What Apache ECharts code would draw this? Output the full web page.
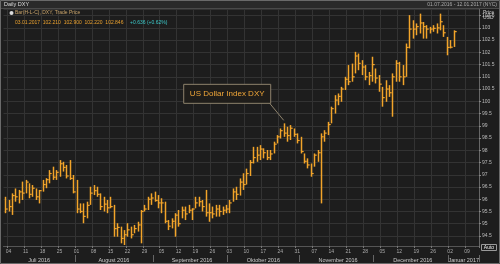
<!DOCTYPE html>
<html><head><meta charset="utf-8">
<script src="https://cdn.jsdelivr.net/npm/echarts@6/dist/echarts.min.js"></script>
<style>html,body{margin:0;padding:0;background:#1d1d1d;}#c{width:500px;height:264px;}</style>
</head><body><div id="c"></div>
<script>
// Daily DXY, trading days from 01.07.2016; last bar 03.01.2017
const startDate = '2016-07-01';
const endDate = '2017-01-12';
const highs = [96.10,95.97,96.24,96.44,96.38,96.72,96.79,96.65,96.58,96.44,96.38,96.79,96.86,97.19,97.33,97.19,97.60,97.53,97.40,97.60,
96.99,96.79,95.83,95.83,95.90,96.51,96.58,96.51,96.24,96.10,95.97,96.10,95.77,95.02,94.88,94.74,95.02,94.88,94.95,95.08,
95.56,95.77,96.10,96.24,96.31,96.17,96.04,95.90,95.15,95.22,95.43,95.56,95.70,95.70,95.77,95.63,96.10,96.10,95.97,96.38,
95.83,95.70,95.77,95.77,95.70,95.77,95.97,96.44,96.51,96.85,97.06,97.25,97.60,98.14,98.14,98.21,98.08,98.01,98.01,98.35,
98.62,98.89,99.10,98.96,99.03,98.89,98.69,98.55,97.87,97.67,97.46,97.87,98.01,98.69,98.82,99.16,99.78,100.25,100.32,100.59,
101.00,101.48,101.54,102.02,101.95,101.68,101.48,101.20,101.82,101.34,101.07,100.59,100.86,100.66,101.14,101.68,101.61,101.48,102.36,103.52,
103.31,103.18,103.58,103.24,103.11,103.04,103.11,103.18,103.58,103.11,102.63,102.50,102.90];
const lows = [95.43,95.50,95.36,95.90,95.83,95.97,96.24,96.04,96.10,95.97,95.83,96.31,96.45,96.65,96.79,96.79,96.92,97.13,96.85,96.79,
96.24,95.43,95.43,95.02,95.22,95.77,96.17,96.10,95.56,95.50,95.43,95.63,94.47,94.47,94.20,94.13,94.47,94.40,94.61,94.68,
94.20,95.50,95.56,95.77,95.90,95.63,95.43,95.02,94.74,94.81,94.47,94.88,95.22,95.15,95.43,95.15,95.63,95.70,95.50,95.29,
95.08,95.22,95.29,95.29,95.36,95.43,95.43,95.90,95.97,96.15,96.38,96.60,96.95,97.46,97.53,97.60,97.67,97.60,97.60,97.87,
98.28,98.48,98.55,98.35,98.42,98.55,98.28,97.87,97.46,97.26,96.92,97.33,97.53,95.83,98.35,98.62,99.10,99.50,99.84,99.98,
100.46,100.66,100.80,101.14,101.27,101.07,100.86,100.66,100.80,100.73,100.39,99.78,99.98,100.18,99.37,100.80,100.80,100.66,101.00,102.16,
102.56,102.70,102.77,102.56,102.56,102.77,102.84,102.77,102.90,102.63,101.88,102.16,102.22];
const closes = [95.60,95.70,96.15,96.10,96.30,96.25,96.70,96.20,96.45,96.10,96.35,96.60,96.80,97.05,96.90,97.10,97.45,97.30,96.95,96.85,
96.30,95.60,95.50,95.30,95.75,96.25,96.35,96.20,95.70,95.80,95.65,95.70,94.80,94.85,94.40,94.55,94.75,94.55,94.80,94.95,
95.50,95.60,96.00,96.05,95.95,95.85,95.85,95.10,94.90,95.10,95.35,95.00,95.55,95.40,95.55,95.60,95.85,95.90,95.70,95.45,
95.45,95.40,95.60,95.50,95.55,95.60,95.85,96.30,96.20,96.70,96.60,97.05,97.50,97.70,97.80,98.05,97.90,97.70,97.85,98.25,
98.55,98.80,98.70,98.60,98.90,98.65,98.40,97.95,97.55,97.40,97.05,97.80,97.90,98.55,98.70,99.05,99.70,100.05,100.20,100.50,
100.90,100.80,101.00,101.85,101.55,101.40,101.00,101.05,101.50,100.95,100.70,100.15,100.50,100.35,101.00,101.55,101.00,101.00,102.20,102.95,
102.95,103.05,103.20,103.05,102.95,102.95,102.98,103.00,103.25,102.80,102.20,102.21,102.846];
const monthNames = ['Januar','Februar','März','April','Mai','Juni','Juli','August','September','Oktober','November','December'];
const annotationText = 'US Dollar Index DXY';
const annotationIndex = 82;

// weekday categories
const cats = [];
for (let d = new Date(startDate + 'T00:00:00Z'); d <= new Date(endDate + 'T00:00:00Z'); d.setUTCDate(d.getUTCDate() + 1)) {
  const w = d.getUTCDay();
  if (w !== 0 && w !== 6) cats.push(d.toISOString().slice(0, 10));
}
const isMonday = cats.map(c => new Date(c + 'T00:00:00Z').getUTCDay() === 1);
const monthKey = c => c.slice(0, 7);
const isMonthStart = cats.map((c, i) => i > 0 && monthKey(c) !== monthKey(cats[i - 1]));
const monthGroups = {};
cats.forEach((c, i) => { (monthGroups[monthKey(c)] = monthGroups[monthKey(c)] || []).push(i); });
const isMonthMid = cats.map(() => false);
Object.values(monthGroups).forEach(arr => { isMonthMid[arr[Math.floor(arr.length / 2)]] = true; });

const barData = highs.map((h, i) => [i, h, lows[i], closes[i]]);
const last = closes.length - 1;
const prev = closes[last - 1];
const chg = closes[last] - prev;
const BAR = '#f2a42a';
const FONT = 'Liberation Sans, Arial, sans-serif';

const chart = echarts.init(document.getElementById('c'), null, {renderer: 'canvas'});
chart.setOption({
  backgroundColor: '#1d1d1d',
  animation: false,
  textStyle: {fontFamily: FONT},
  grid: {left: 3.5, right: 21, top: 9, bottom: 18},
  xAxis: [{
    type: 'category', data: cats, boundaryGap: true,
    axisLine: {show: true, lineStyle: {color: '#555'}},
    axisTick: {show: true, interval: i => isMonday[i], length: 2, lineStyle: {color: '#777'}},
    axisLabel: {interval: i => isMonday[i], formatter: v => v.slice(8, 10), fontSize: 5, color: '#aaa', margin: 3, fontFamily: FONT},
    splitLine: {show: true, interval: i => isMonday[i], lineStyle: {color: '#333', width: 1}}
  }, {
    type: 'category', data: cats, boundaryGap: true, position: 'bottom', offset: 9,
    axisLine: {show: false},
    axisTick: {show: true, interval: i => isMonthStart[i], length: 7, lineStyle: {color: '#666'}},
    axisLabel: {interval: i => isMonthMid[i], formatter: v => monthNames[+v.slice(5, 7) - 1] + ' ' + v.slice(0, 4), fontSize: 5.5, color: '#ccc', margin: 2, fontFamily: FONT},
    splitLine: {show: false}
  }],
  yAxis: {
    type: 'value', position: 'right', min: 94.09, max: 103.77, splitNumber: 19, minInterval: 0.5, maxInterval: 0.5,
    axisLine: {show: true, lineStyle: {color: '#666'}},
    axisTick: {show: true, length: 2, lineStyle: {color: '#888'}},
    axisLabel: {fontSize: 5, color: '#bbb', margin: 3, showMinLabel: false, showMaxLabel: false, fontFamily: FONT},
    splitLine: {show: true, lineStyle: {color: '#333', width: 1}}
  },
  series: [{
    type: 'custom',
    data: barData,
    encode: {x: 0, y: [1, 2, 3]},
    renderItem: function (params, api) {
      const x = api.value(0);
      const pH = api.coord([x, api.value(1)]);
      const pL = api.coord([x, api.value(2)]);
      const pC = api.coord([x, api.value(3)]);
      const px = Math.round(pH[0]) + 0.5;
      return {type: 'group', children: [
        {type: 'line', shape: {x1: px, y1: pH[1], x2: px, y2: pL[1]}, style: {stroke: BAR, lineWidth: 1.5}},
        {type: 'line', shape: {x1: px, y1: pC[1], x2: px + 2.2, y2: pC[1]}, style: {stroke: BAR, lineWidth: 1.2}}
      ]};
    },
    markLine: {
      symbol: 'none', silent: true, animation: false,
      data: [{yAxis: closes[last]}],
      lineStyle: {opacity: 0},
      label: {position: 'end', formatter: closes[last].toFixed(3), backgroundColor: '#f2a42a', color: '#111', fontSize: 5, padding: [1, 2, 1, 2], distance: 2, fontFamily: FONT}
    }
  }]
});

// annotation anchored on the bar's high via the axis scales
const anchor = chart.convertToPixel({seriesIndex: 0}, [annotationIndex, highs[annotationIndex]]);
const ax = anchor[0], ay = anchor[1] - 3;
const bx = ax - 100, by = ay - 36;

chart.setOption({graphic: [
  {id: 'band', type: 'rect', shape: {x: 0, y: 0, width: 500, height: 8}, style: {fill: '#2a2a2a'}, z: 10},
  {id: 'bandline', type: 'line', shape: {x1: 0, y1: 8.5, x2: 500, y2: 8.5}, style: {stroke: '#4a4a4a', lineWidth: 1}, z: 10},
  {id: 'title', type: 'text', x: 4, y: 1.5, style: {text: 'Daily DXY', fill: '#ddd', fontSize: 5.5, fontFamily: FONT}, z: 11},
  {id: 'range', type: 'text', x: 497, y: 2, style: {text: '01.07.2016 - 12.01.2017 (NYC)', fill: '#aaa', fontSize: 5, fontFamily: FONT, textAlign: 'right'}, z: 11},
  {id: 'icon', type: 'circle', shape: {cx: 11.5, cy: 13, r: 2}, style: {fill: '#ddd'}, z: 11},
  {id: 'leg1', type: 'text', x: 15, y: 10.5, style: {text: 'Bar(H-L-C), DXY, Trade Price', fill: '#c9a46a', fontSize: 5, fontFamily: FONT}, z: 11},
  {id: 'leg2', type: 'text', x: 15, y: 16.5, style: {
    text: '{o|03.01.2017  ' + closes[last - 1].toFixed(3) + '  ' + highs[last].toFixed(3) + '  ' + lows[last].toFixed(3) + '  ' + closes[last].toFixed(3) + '}  {c|+' + chg.toFixed(3) + ' (+' + (chg / prev * 100).toFixed(2) + '%)}',
    rich: {o: {fill: '#e9a02e', fontSize: 5, fontFamily: FONT}, c: {fill: '#3cc8c8', fontSize: 5, fontFamily: FONT}}
  }, z: 11},
  {id: 'price', type: 'text', x: 483, y: 10, style: {text: 'Price', fill: '#ccc', fontSize: 5, fontFamily: FONT}, z: 11},
  {id: 'usd', type: 'text', x: 483, y: 15, style: {text: 'USD', fill: '#ccc', fontSize: 5, fontFamily: FONT}, z: 11},
  {id: 'autobox', type: 'rect', shape: {x: 481.5, y: 244.5, width: 15, height: 6}, style: {fill: '#1d1d1d', stroke: '#999', lineWidth: 1}, z: 11},
  {id: 'autotxt', type: 'text', x: 489, y: 245.5, style: {text: 'Auto', fill: '#eee', fontSize: 5, fontFamily: FONT, textAlign: 'center'}, z: 12},
  {id: 'frame', type: 'rect', shape: {x: 0.5, y: 0.5, width: 499, height: 263}, style: {fill: 'none', stroke: '#6a6a6a', lineWidth: 1}, z: 20},
  {id: 'lead', type: 'line', shape: {x1: ax - 14, y1: ay - 17, x2: ax, y2: ay}, style: {stroke: '#8d826c', lineWidth: 1}, z: 13},
  {id: 'abox', type: 'rect', shape: {x: bx, y: by, width: 87, height: 19}, style: {fill: '#1f1d1a', stroke: '#8d826c', lineWidth: 1}, z: 13},
  {id: 'atxt', type: 'text', x: bx + 43.5, y: by + 9.5, style: {text: annotationText, fill: '#f0a638', fontSize: 8, fontFamily: FONT, textAlign: 'center', textVerticalAlign: 'middle'}, z: 14}
]});
</script>
</body></html>
